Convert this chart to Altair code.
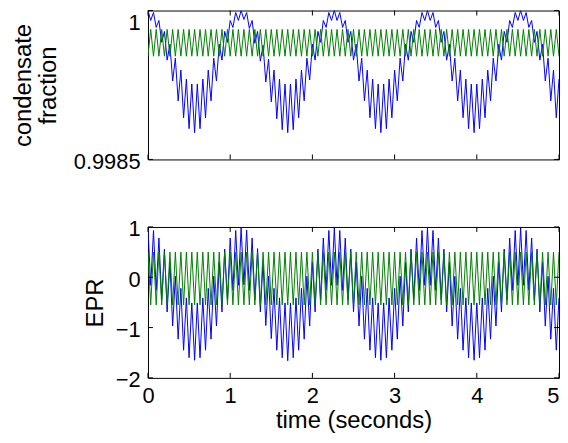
import altair as alt
import pandas as pd

# sample times (s), one every half fast period
time_s = [
    0.000, 0.033, 0.067, 0.100, 0.133, 0.167, 0.200, 0.233, 0.267, 0.300, 0.333, 0.367, 0.400, 0.433, 0.467,
    0.500, 0.533, 0.567, 0.600, 0.633, 0.667, 0.700, 0.733, 0.767, 0.800, 0.833, 0.867, 0.900, 0.933, 0.967,
    1.000, 1.033, 1.067, 1.100, 1.133, 1.167, 1.200, 1.233, 1.267, 1.300, 1.333, 1.367, 1.400, 1.433, 1.467,
    1.500, 1.533, 1.567, 1.600, 1.633, 1.667, 1.700, 1.733, 1.767, 1.800, 1.833, 1.867, 1.900, 1.933, 1.967,
    2.000, 2.033, 2.067, 2.100, 2.133, 2.167, 2.200, 2.233, 2.267, 2.300, 2.333, 2.367, 2.400, 2.433, 2.467,
    2.500, 2.533, 2.567, 2.600, 2.633, 2.667, 2.700, 2.733, 2.767, 2.800, 2.833, 2.867, 2.900, 2.933, 2.967,
    3.000, 3.033, 3.067, 3.100, 3.133, 3.167, 3.200, 3.233, 3.267, 3.300, 3.333, 3.367, 3.400, 3.433, 3.467,
    3.500, 3.533, 3.567, 3.600, 3.633, 3.667, 3.700, 3.733, 3.767, 3.800, 3.833, 3.867, 3.900, 3.933, 3.967,
    4.000, 4.033, 4.067, 4.100, 4.133, 4.167, 4.200, 4.233, 4.267, 4.300, 4.333, 4.367, 4.400, 4.433, 4.467,
    4.500, 4.533, 4.567, 4.600, 4.633, 4.667, 4.700, 4.733, 4.767, 4.800, 4.833, 4.867, 4.900, 4.933, 4.967,
    5.000,
]

cond_blue = [
    1.00000, 0.99990, 0.99998, 0.99983, 0.99990, 0.99968, 0.99979, 0.99950, 0.99966, 0.99929, 0.99952, 0.99909,
    0.99940, 0.99892, 0.99931, 0.99881, 0.99926, 0.99877, 0.99926, 0.99881, 0.99931, 0.99892, 0.99940, 0.99909,
    0.99952, 0.99929, 0.99966, 0.99950, 0.99979, 0.99968, 0.99990, 0.99983, 0.99998, 0.99990,
    1.00000, 0.99991, 0.99998, 0.99982, 0.99990, 0.99967, 0.99979, 0.99949, 0.99965, 0.99928, 0.99951, 0.99908,
    0.99940, 0.99891, 0.99931, 0.99880, 0.99926, 0.99877, 0.99926, 0.99880, 0.99931, 0.99892, 0.99940, 0.99909,
    0.99952, 0.99930, 0.99966, 0.99950, 0.99979, 0.99968, 0.99990, 0.99983, 0.99998, 0.99990,
    1.00000, 0.99990, 0.99998, 0.99983, 0.99990, 0.99968, 0.99979, 0.99950, 0.99966, 0.99929, 0.99952, 0.99909,
    0.99940, 0.99892, 0.99931, 0.99881, 0.99926, 0.99877, 0.99926, 0.99881, 0.99931, 0.99892, 0.99940, 0.99909,
    0.99952, 0.99929, 0.99966, 0.99950, 0.99979, 0.99968, 0.99990, 0.99983, 0.99998, 0.99990,
    1.00000, 0.99990, 0.99998, 0.99983, 0.99990, 0.99968, 0.99979, 0.99950, 0.99966, 0.99929, 0.99952, 0.99909,
    0.99940, 0.99892, 0.99931, 0.99881, 0.99926, 0.99877, 0.99926, 0.99881, 0.99931, 0.99892, 0.99940, 0.99909,
    0.99952, 0.99929, 0.99966, 0.99950, 0.99979, 0.99968, 0.99990, 0.99983, 0.99998, 0.99990,
    1.00000, 0.99990, 0.99998, 0.99983, 0.99990, 0.99968, 0.99979, 0.99950, 0.99966, 0.99929, 0.99952, 0.99909,
    0.99940, 0.99892, 0.99931,
]

cond_green = [
    0.99954, 0.99981, 0.99954, 0.99981, 0.99954, 0.99981, 0.99954, 0.99981, 0.99954, 0.99981,
    0.99954, 0.99981, 0.99954, 0.99981, 0.99954, 0.99981, 0.99954, 0.99981, 0.99954, 0.99981,
    0.99954, 0.99981, 0.99954, 0.99981, 0.99954, 0.99981, 0.99954, 0.99981, 0.99954, 0.99981,
    0.99954, 0.99981, 0.99954, 0.99981, 0.99954, 0.99981, 0.99954, 0.99981, 0.99954, 0.99981,
    0.99954, 0.99981, 0.99954, 0.99981, 0.99954, 0.99981, 0.99954, 0.99981, 0.99954, 0.99981,
    0.99954, 0.99981, 0.99954, 0.99981, 0.99954, 0.99981, 0.99954, 0.99981, 0.99954, 0.99981,
    0.99954, 0.99981, 0.99954, 0.99981, 0.99954, 0.99981, 0.99954, 0.99981, 0.99954, 0.99981,
    0.99954, 0.99981, 0.99954, 0.99981, 0.99954, 0.99981, 0.99954, 0.99981, 0.99954, 0.99981,
    0.99954, 0.99981, 0.99954, 0.99981, 0.99954, 0.99981, 0.99954, 0.99981, 0.99954, 0.99981,
    0.99954, 0.99981, 0.99954, 0.99981, 0.99954, 0.99981, 0.99954, 0.99981, 0.99954, 0.99981,
    0.99954, 0.99981, 0.99954, 0.99981, 0.99954, 0.99981, 0.99954, 0.99981, 0.99954, 0.99981,
    0.99954, 0.99981, 0.99954, 0.99981, 0.99954, 0.99981, 0.99954, 0.99981, 0.99954, 0.99981,
    0.99954, 0.99981, 0.99954, 0.99981, 0.99954, 0.99981, 0.99954, 0.99981, 0.99954, 0.99981,
    0.99954, 0.99981, 0.99954, 0.99981, 0.99954, 0.99981, 0.99954, 0.99981, 0.99954, 0.99981,
    0.99954, 0.99981, 0.99954, 0.99981, 0.99954, 0.99981, 0.99954, 0.99981, 0.99954, 0.99981,
    0.99954,
]

epr_blue = [
    0.98, -0.16, 0.93, -0.26, 0.78, -0.45, 0.56, -0.69, 0.30, -0.97, 0.02, -1.23, -0.22, -1.45, -0.41, -1.60, -0.51,
    -1.65, -0.51, -1.60, -0.41, -1.45, -0.22, -1.23, 0.02, -0.97, 0.30, -0.69, 0.56, -0.45, 0.78, -0.26, 0.93, -0.16,
    0.98, -0.15, 0.94, -0.26, 0.78, -0.45, 0.57, -0.69, 0.30, -0.96, 0.02, -1.22, -0.22, -1.45, -0.41, -1.60, -0.51,
    -1.66, -0.51, -1.60, -0.41, -1.45, -0.22, -1.23, 0.02, -0.97, 0.30, -0.69, 0.56, -0.45, 0.78, -0.26, 0.93, -0.16,
    0.98, -0.16, 0.93, -0.26, 0.78, -0.45, 0.56, -0.69, 0.30, -0.97, 0.02, -1.23, -0.22, -1.45, -0.41, -1.60, -0.51,
    -1.65, -0.51, -1.60, -0.41, -1.45, -0.22, -1.23, 0.02, -0.97, 0.30, -0.69, 0.56, -0.45, 0.78, -0.26, 0.93, -0.16,
    0.98, -0.16, 0.93, -0.26, 0.78, -0.45, 0.56, -0.69, 0.30, -0.97, 0.02, -1.23, -0.22, -1.45, -0.41, -1.60, -0.51,
    -1.65, -0.51, -1.60, -0.41, -1.45, -0.22, -1.23, 0.02, -0.97, 0.30, -0.69, 0.56, -0.45, 0.78, -0.26, 0.93, -0.16,
    0.98, -0.16, 0.93, -0.26, 0.78, -0.45, 0.56, -0.69, 0.30, -0.97, 0.02, -1.23, -0.22, -1.45, -0.41,
]

epr_green = [
    0.50, -0.55, 0.50, -0.55, 0.50, -0.55, 0.50, -0.55, 0.50, -0.55,
    0.50, -0.55, 0.50, -0.55, 0.50, -0.55, 0.50, -0.55, 0.50, -0.55,
    0.50, -0.55, 0.50, -0.55, 0.50, -0.55, 0.50, -0.55, 0.50, -0.55,
    0.50, -0.55, 0.50, -0.55, 0.50, -0.55, 0.50, -0.55, 0.50, -0.55,
    0.50, -0.55, 0.50, -0.55, 0.50, -0.55, 0.50, -0.55, 0.50, -0.55,
    0.50, -0.55, 0.50, -0.55, 0.50, -0.55, 0.50, -0.55, 0.50, -0.55,
    0.50, -0.55, 0.50, -0.55, 0.50, -0.55, 0.50, -0.55, 0.50, -0.55,
    0.50, -0.55, 0.50, -0.55, 0.50, -0.55, 0.50, -0.55, 0.50, -0.55,
    0.50, -0.55, 0.50, -0.55, 0.50, -0.55, 0.50, -0.55, 0.50, -0.55,
    0.50, -0.55, 0.50, -0.55, 0.50, -0.55, 0.50, -0.55, 0.50, -0.55,
    0.50, -0.55, 0.50, -0.55, 0.50, -0.55, 0.50, -0.55, 0.50, -0.55,
    0.50, -0.55, 0.50, -0.55, 0.50, -0.55, 0.50, -0.55, 0.50, -0.55,
    0.50, -0.55, 0.50, -0.55, 0.50, -0.55, 0.50, -0.55, 0.50, -0.55,
    0.50, -0.55, 0.50, -0.55, 0.50, -0.55, 0.50, -0.55, 0.50, -0.55,
    0.50, -0.55, 0.50, -0.55, 0.50, -0.55, 0.50, -0.55, 0.50, -0.55,
    0.50,
]

x_ticks = [0, 1, 2, 3, 4, 5]
cond_ticks = [0.9985, 1.0]
epr_ticks = [-2, -1, 0, 1]

FONT = "Liberation Sans"
W = 414
TICK = 5
LABEL_SIZE = 22
TITLE_SIZE = 24


def panel(blue, green, ydom, yticks, ytitle, H, show_x, ytitle_pad, flush_top):
    xs = alt.Scale(domain=[0, 5], nice=False, zero=False)
    ys = alt.Scale(domain=ydom, nice=False, zero=False)
    xaxis_kw = dict(values=x_ticks, format="d", ticks=False, domain=False, grid=False,
                    labelFontSize=LABEL_SIZE, labelPadding=8,
                    labelAlign={"condition": {"test": "datum.value == 5", "value": "right"},
                                "value": "center"})
    if show_x:
        xaxis_kw.update(title="time (seconds)", titleFontSize=TITLE_SIZE, titlePadding=2)
    else:
        xaxis_kw.update(labels=False, title="")
    xaxis = alt.Axis(**xaxis_kw)
    yaxis_kw = dict(values=yticks, format="~g", ticks=False, domain=False, grid=False,
                    labelFontSize=LABEL_SIZE, labelPadding=8, labelOffset=2,
                    title=ytitle, titleFontSize=TITLE_SIZE, titlePadding=ytitle_pad,
                    titleLineHeight=25)
    if flush_top:
        yaxis_kw.update(
            labelBaseline={"condition": {"test": "datum.value == 1", "value": "top"}, "value": "middle"},
        )
    yaxis = alt.Axis(**yaxis_kw)

    df_b = pd.DataFrame({"t": time_s, "v": blue, "s": "blue"})
    df_g = pd.DataFrame({"t": time_s, "v": green, "s": "green"})
    df = pd.concat([df_b, df_g], ignore_index=True)
    lines = alt.Chart(df).mark_line(strokeWidth=1, clip=True).encode(
        x=alt.X("t:Q", scale=xs, axis=xaxis),
        y=alt.Y("v:Q", scale=ys, axis=yaxis),
        color=alt.Color("s:N", scale=alt.Scale(domain=["blue", "green"], range=["#0000ff", "#008000"]),
                        legend=None),
    )
    xt = pd.DataFrame({"t": x_ticks})
    yt = pd.DataFrame({"v": yticks})
    tick_bot = alt.Chart(xt).mark_rule(color="black", strokeWidth=1).encode(
        x="t:Q", y=alt.value(H), y2=alt.value(H - TICK))
    tick_top = alt.Chart(xt).mark_rule(color="black", strokeWidth=1).encode(
        x="t:Q", y=alt.value(0), y2=alt.value(TICK))
    tick_left = alt.Chart(yt).mark_rule(color="black", strokeWidth=1).encode(
        y="v:Q", x=alt.value(0), x2=alt.value(TICK))
    tick_right = alt.Chart(yt).mark_rule(color="black", strokeWidth=1).encode(
        y="v:Q", x=alt.value(W), x2=alt.value(W - TICK))
    return alt.layer(lines, tick_bot, tick_top, tick_left, tick_right).properties(
        width=W, height=H)


top = panel(cond_blue, cond_green, [0.9985, 1.0], cond_ticks, ["condensate", "fraction"], 150, False, 13, True)
bottom = panel(epr_blue, epr_green, [-2, 1], epr_ticks, "EPR", 152, True, 8, False)

chart = alt.vconcat(top, bottom, spacing=44).properties(
    padding={"left": 3, "top": 0, "right": 0, "bottom": 0},
    background="white",
).configure_view(
    stroke="black", strokeWidth=1
).configure_axis(
    labelFont=FONT, titleFont=FONT, labelColor="black", titleColor="black",
    titleFontWeight="normal",
)

chart.save("out.html", embed_options={"renderer": "svg", "actions": False})
